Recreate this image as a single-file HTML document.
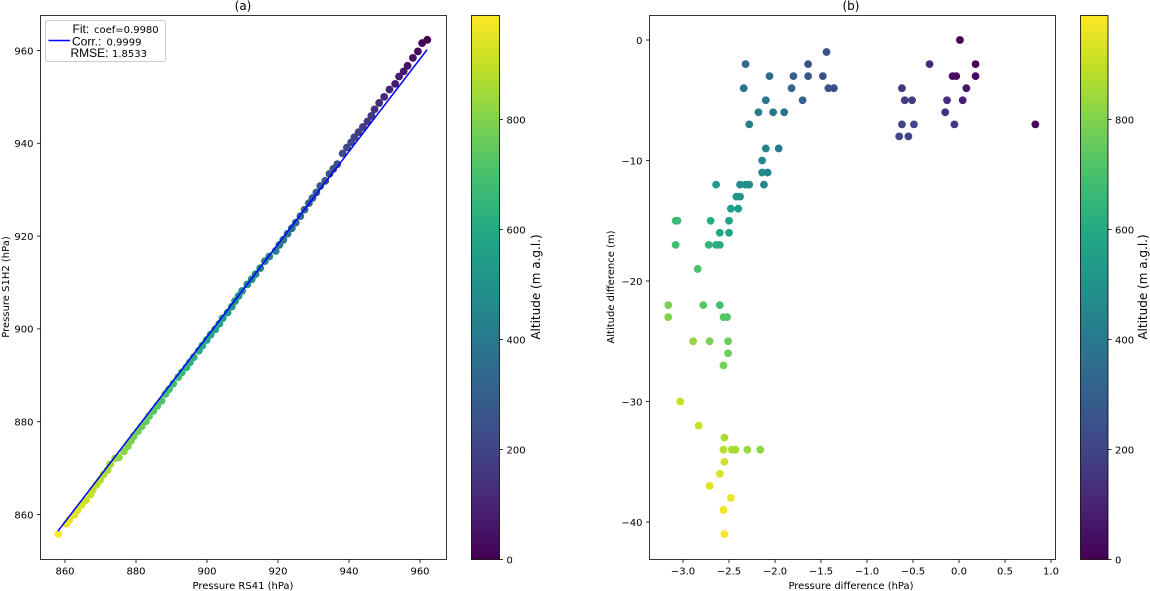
<!DOCTYPE html>
<html lang="en">
<head>
<meta charset="utf-8">
<title>Pressure and altitude comparison</title>
<style>
html,body{margin:0;padding:0;background:#fff;width:1150px;height:591px;overflow:hidden}
svg{display:block}
text{font-family:"DejaVu Sans",sans-serif;font-size:10px;fill:#000}
.leg{font-family:"Liberation Sans",sans-serif;font-size:12px}
</style>
</head>
<body>
<svg id="chart" xmlns="http://www.w3.org/2000/svg" width="1150" height="591" viewBox="0 0 1150 591">
  <defs>
    <linearGradient id="viridis" x1="0" y1="1" x2="0" y2="0">
      <stop offset="0" stop-color="#440154"/><stop offset="0.1" stop-color="#482475"/>
      <stop offset="0.2" stop-color="#414487"/><stop offset="0.3" stop-color="#355f8d"/>
      <stop offset="0.4" stop-color="#2a788e"/><stop offset="0.5" stop-color="#21918c"/>
      <stop offset="0.6" stop-color="#22a884"/><stop offset="0.7" stop-color="#44bf70"/>
      <stop offset="0.8" stop-color="#7ad151"/><stop offset="0.9" stop-color="#bddf26"/>
      <stop offset="1" stop-color="#fde725"/>
    </linearGradient>
  </defs>
  <g id="panelA"></g>
  <g id="panelB"></g>
  <g id="legend">
    <rect x="45.5" y="20.5" width="120" height="41" rx="2" fill="#fff" fill-opacity="0.8" stroke="#ccc" stroke-width="1"/>
    <line x1="48.5" y1="40.5" x2="70" y2="40.5" stroke="#0000ff" stroke-width="1.5"/>
    <text x="72.5" y="33"><tspan class="leg">Fit:</tspan><tspan x="94">coef=0.9980</tspan></text>
    <text x="72" y="45.5"><tspan class="leg">Corr.:</tspan><tspan x="106.5">0.9999</tspan></text>
    <text x="70.5" y="57"><tspan class="leg">RMSE:</tspan><tspan x="112">1.8533</tspan></text>
  </g>
</svg>
<script>
const rs41Pressure = [962.06,960.6,959.4,958,956.5,955.4,954.1,953,951.4,949.9,948.5,947.2,946.3,945.2,943.9,942.7,941.5,940.6,939.4,938.2,936.7,935.6,934.5,933.3,931.9,930.8,929.7,928.7,927.5,926.3,925,923.9,922.7,921.5,920.4,919.35,917.55,916.3,915,913.7,912.6,911.35,909.9,908.9,907.9,907,905.8,904.4,903.5,902.3,901,899.9,898.7,897.7,896.25,895.2,894.2,892.9,891.9,890.5,889.3,888.3,887.2,886,884.9,883.7,882.8,881.6,880.6,879.4,878.6,877.7,876.6,875.2,874.1,872.7,872,870.8,869.9,868.9,867.8,867.2,865.9,864.7,863.5,862.6,861.2,860.4,858.1];
const s1h2Pressure = [962.3,961.6,959.8,958.4,956.7,955.5,954.4,952.8,951.6,950,948.7,947.3,945.9,944.7,943.5,942.4,941.3,940.2,939.1,937.8,935.5,934.5,933.4,931.9,930.8,929.4,928.2,927.1,925.7,924.3,922.9,921.7,920.5,919.2,918.1,916.8,915.6,914.6,913.1,911.8,910.7,909.6,908.2,907.1,906,904.8,903.5,902.3,901.1,899.9,898.75,897.6,896.4,895.3,893.9,892.8,891.7,890.6,889.6,888.2,887,886,884.5,883.4,882.3,881.2,880.1,879,878,876.9,875.9,874.7,873.6,872.3,872.1,870.8,869.6,868.6,867.4,866.4,865.3,864.3,863.1,862.1,860.9,859.9,858.8,858,855.8];
const altitudeA = [0,14,26,39,53,64,76,86,102,116,129,142,150,161,173,184,196,204,216,227,241,252,262,274,287,297,308,317,329,340,352,363,374,386,396,406,423,435,447,460,470,482,496,505,515,523,535,548,557,568,580,591,602,612,626,636,645,657,667,680,692,701,712,723,733,745,753,765,774,786,793,802,812,826,836,849,856,867,876,885,896,902,914,925,937,945,959,966,988];

const pressureDiff = [0.01,0.18,-0.32,0.18,-0.07,-0.03,-0.62,0.08,-0.59,-0.51,-0.13,0.04,-0.15,-0.62,-0.49,-0.05,0.83,-0.65,-0.55,-1.44,-2.32,-1.64,-2.06,-1.8,-1.64,-1.48,-2.34,-1.82,-1.42,-1.36,-2.1,-1.7,-2.18,-2.02,-1.9,-2.28,-2.1,-1.96,-2.14,-2.14,-2.08,-2.64,-2.38,-2.32,-2.28,-2.12,-2.42,-2.38,-2.48,-2.4,-3.08,-3.06,-2.7,-2.5,-2.6,-2.5,-3.08,-2.72,-2.64,-2.6,-2.84,-3.16,-2.78,-2.6,-3.16,-2.56,-2.52,-2.89,-2.71,-2.51,-2.51,-2.56,-3.03,-2.83,-2.55,-2.56,-2.47,-2.43,-2.3,-2.16,-2.55,-2.6,-2.71,-2.48,-2.56,-2.55];
const altitudeDiff = [0,-2,-2,-3,-3,-3,-4,-4,-5,-5,-5,-5,-6,-7,-7,-7,-7,-8,-8,-1,-2,-2,-3,-3,-3,-3,-4,-4,-4,-4,-5,-5,-6,-6,-6,-7,-9,-9,-10,-11,-11,-12,-12,-12,-12,-12,-13,-13,-14,-14,-15,-15,-15,-15,-16,-16,-17,-17,-17,-17,-19,-22,-22,-22,-23,-23,-23,-25,-25,-25,-26,-27,-30,-32,-33,-34,-34,-34,-34,-34,-35,-36,-37,-38,-39,-41];
const altitudeB = [0,12,120,20,40,30,150,60,170,180,130,85,140,205,210,160,20,215,200,240,350,255,345,300,265,245,370,320,250,235,395,310,415,385,360,430,440,405,450,460,455,550,490,480,485,465,520,510,550,540,670,665,610,570,590,580,690,640,620,610,700,790,730,690,800,730,720,830,790,760,770,780,905,900,860,880,860,855,840,820,915,930,945,960,970,985];

const pressureTicksX = [860,880,900,920,940,960];
const pressureTicksY = [860,880,900,920,940,960];
const diffTicksX = [-3,-2.5,-2,-1.5,-1,-0.5,0,0.5,1];
const diffTicksXLabels = ['−3.0','−2.5','−2.0','−1.5','−1.0','−0.5','0.0','0.5','1.0'];
const diffTicksY = [0,-10,-20,-30,-40];
const diffTicksYLabels = ['0','−10','−20','−30','−40'];
const colorbarTicks = [0,200,400,600,800];
const altitudeRange = [0,989];
const fitCoef = 0.998;
const fitIntercept = 0.116;
const fitRange = [858,962];

const NS = 'http://www.w3.org/2000/svg';
const viridis = [[68,1,84],[72,36,117],[65,68,135],[53,95,141],[42,120,142],[33,145,140],[34,168,132],[68,191,112],[122,209,81],[189,223,38],[253,231,37]];

function scale(d0, d1, r0, r1) {
  return function (v) { return r0 + (v - d0) * (r1 - r0) / (d1 - d0); };
}
function colorFor(alt) {
  const t = Math.max(0, Math.min(1, (alt - altitudeRange[0]) / (altitudeRange[1] - altitudeRange[0]))) * 10;
  const i = Math.min(9, Math.floor(t));
  const f = t - i;
  const c = viridis[i].map(function (a, k) { return Math.round(a + (viridis[i + 1][k] - a) * f); });
  return 'rgb(' + c.join(',') + ')';
}
function make(parent, tag, attrs, txt) {
  const el = document.createElementNS(NS, tag);
  Object.keys(attrs).forEach(function (k) { el.setAttribute(k, attrs[k]); });
  if (txt !== undefined) el.textContent = txt;
  parent.appendChild(el);
  return el;
}
function xTick(g, px, bottom, label) {
  const t = make(g, 'line', {x1: px, x2: px, y1: bottom, y2: bottom + 3.5, stroke: '#000', 'stroke-width': 0.8});
  
  
  const l = make(g, 'text', {x: px, y: bottom + 15, 'text-anchor': 'middle'}, label);
  
  
}
function yTick(g, py, left, label) {
  const t = make(g, 'line', {x1: left - 3.5, x2: left, y1: py, y2: py, stroke: '#000', 'stroke-width': 0.8});
  
  
  const l = make(g, 'text', {x: left - 7, y: py + 3.8, 'text-anchor': 'end'}, label);
  
  
}
function frame(g, l, t, r, b) {
  const f = make(g, 'rect', {x: l, y: t, width: r - l, height: b - t, fill: 'none', stroke: '#000', 'stroke-width': 0.8});
  
  
}
function colorbar(g, l, r, t, b, labelX) {
  const cy = scale(altitudeRange[0], altitudeRange[1], b, t);
  const bar = make(g, 'rect', {x: l, y: t, width: r - l, height: b - t, fill: 'url(#viridis)', stroke: '#000', 'stroke-width': 0.8});
  
  
  colorbarTicks.forEach(function (v) {
    const tk = make(g, 'line', {x1: r, x2: r + 3.5, y1: cy(v), y2: cy(v), stroke: '#000', 'stroke-width': 0.8});
    
    
    const lb = make(g, 'text', {x: r + 7, y: cy(v) + 3.8}, String(v));
    
    
  });
  const title = make(g, 'text', {x: labelX, y: 287, 'text-anchor': 'middle', 'font-size': 12, style: 'font-size:12px', transform: 'rotate(-90 ' + labelX + ' 287)'}, 'Altitude (m a.g.l.)');
  
  
}
function drawText(g, x, y, s, size, rotate) {
  const attrs = {x: x, y: y, 'text-anchor': 'middle', style: 'font-size:' + size + 'px'};
  if (rotate) attrs.transform = 'rotate(-90 ' + x + ' ' + y + ')';
  return make(g, 'text', attrs, s);
}

/* Panel (a) */
(function () {
  const g = document.getElementById('panelA');
  const L = 40.5, R = 446.5, T = 15.5, B = 559.5;
  const x = scale(860, 960, 65, 420);
  const y = scale(860, 960, 514.5, 50.5);
  rs41Pressure.forEach(function (p, i) {
    const c = make(g, 'circle', {cx: x(p), cy: y(s1h2Pressure[i]), r: 3.9, fill: colorFor(altitudeA[i])});
    
    
  });
  const fit = make(g, 'line', {
    x1: x(fitRange[0]), y1: y(fitCoef * fitRange[0] + fitIntercept),
    x2: x(fitRange[1]), y2: y(fitCoef * fitRange[1] + fitIntercept),
    stroke: '#0000ff', 'stroke-width': 1.5
  });
  
  
  frame(g, L, T, R, B);
  pressureTicksX.forEach(function (v) { xTick(g, x(v), B, String(v)); });
  pressureTicksY.forEach(function (v) { yTick(g, y(v), L, String(v)); });
  const t1 = drawText(g, 243, 10, '(a)', 12);
  
  
  const xl = drawText(g, 243, 589, 'Pressure RS41 (hPa)', 10);
  
  
  const yl = drawText(g, 9, 287, 'Pressure S1H2 (hPa)', 10, true);
  
  
  colorbar(g, 471.5, 499.5, 15.5, 559.5, 540);
})();

/* Panel (b) */
(function () {
  const g = document.getElementById('panelB');
  const L = 649.5, R = 1055.5, T = 15.5, B = 559.5;
  const x = scale(0, 1, 959, 1051);
  const y = scale(0, -40, 40, 522);
  pressureDiff.forEach(function (p, i) {
    const c = make(g, 'circle', {cx: x(p), cy: y(altitudeDiff[i]), r: 3.9, fill: colorFor(altitudeB[i])});
    
    
  });
  frame(g, L, T, R, B);
  diffTicksX.forEach(function (v, i) { xTick(g, x(v), B, diffTicksXLabels[i]); });
  diffTicksY.forEach(function (v, i) { yTick(g, y(v), L, diffTicksYLabels[i]); });
  const t2 = drawText(g, 851, 10, '(b)', 12);
  
  
  const xl = drawText(g, 851, 589, 'Pressure difference (hPa)', 10);
  
  
  const yl = drawText(g, 614, 287, 'Altitude difference (m)', 10, true);
  
  
  colorbar(g, 1080.5, 1108, 15.5, 559.5, 1147);
})();
</script>
</body>
</html>
